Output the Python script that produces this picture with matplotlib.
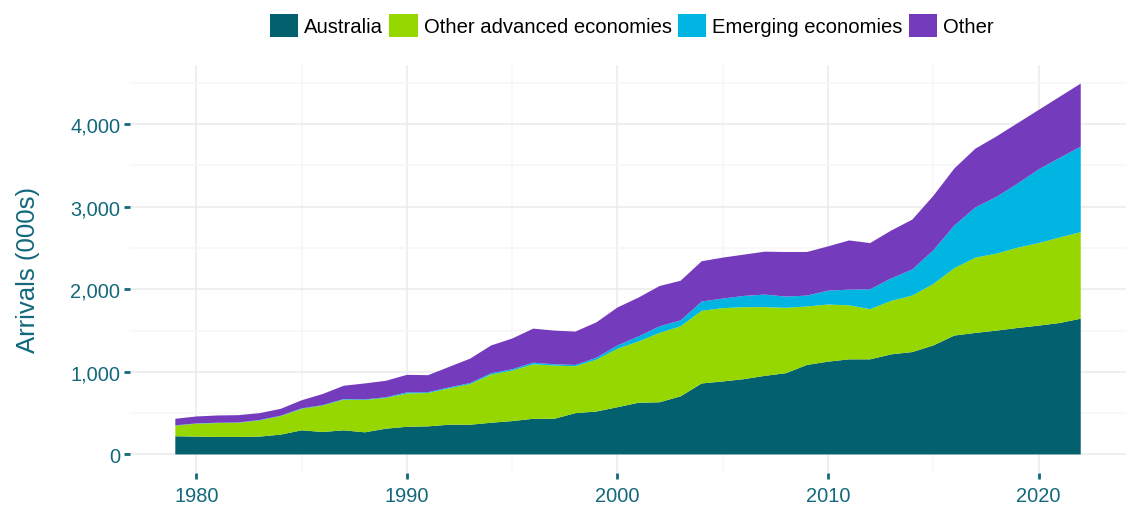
import matplotlib
matplotlib.use("Agg")
import matplotlib.pyplot as plt
from matplotlib.patches import Patch
from matplotlib.ticker import FuncFormatter, MultipleLocator

plt.rcParams["font.family"] = ["Liberation Sans", "DejaVu Sans"]

years = list(range(1979, 2023))

# arrivals (000s) by source
australia = [220, 216, 212, 212, 216, 240, 292, 272, 292, 268,
             312, 335, 340, 360, 360, 384, 404, 432, 432, 500,
             520, 572, 626, 632, 704, 860, 884, 912, 952, 984,
             1084, 1124, 1152, 1152, 1212, 1240, 1320, 1440, 1472, 1500,
             1532, 1560, 1592, 1644]
other_advanced = [128, 156, 168, 172, 196, 224, 260, 320, 372, 392,
                  372, 403, 404, 440, 492, 584, 612, 660, 644, 568,
                  628, 708, 742, 840, 848, 880, 888, 872, 832, 792,
                  708, 692, 654, 608, 648, 684, 744, 816, 912, 932,
                  972, 1000, 1036, 1048]
emerging = [4, 4, 4, 4, 5, 5, 6, 6, 7, 7,
            8, 14, 10, 12, 12, 16, 16, 20, 16, 16,
            24, 40, 62, 80, 72, 112, 116, 136, 152, 136,
            132, 168, 190, 240, 272, 316, 408, 516, 608, 688,
            776, 892, 964, 1036]
other = [80, 84, 88, 88, 83, 83, 98, 134, 161, 193,
         200, 212, 206, 248, 296, 336, 372, 412, 408, 404,
         428, 460, 470, 488, 480, 488, 496, 500, 520, 540,
         528, 536, 596, 560, 580, 604, 660, 692, 712, 732,
         732, 720, 740, 764]

labels = ["Australia", "Other advanced economies", "Emerging economies", "Other"]
colors = ["#03606f", "#97d700", "#00b5e2", "#753bbd"]
text_col = "#13687b"

fig = plt.figure(figsize=(11.26, 5.06), dpi=100)
ax = fig.add_axes([0.1155, 0.0632, 0.8845, 0.8064])

ax.stackplot(years, australia, other_advanced, emerging, other,
             colors=colors, linewidth=0, zorder=3)

ax.set_xlim(1976.85, 2024.15)
ax.set_ylim(-225, 4717)

ax.xaxis.set_major_locator(MultipleLocator(10))
ax.xaxis.set_minor_locator(MultipleLocator(5))
ax.yaxis.set_major_locator(MultipleLocator(1000))
ax.yaxis.set_minor_locator(MultipleLocator(500))
ax.yaxis.set_major_formatter(FuncFormatter(lambda v, p: f"{int(v):,}"))

ax.grid(which="major", color="#ebebeb", linewidth=1.1, zorder=0)
ax.grid(which="minor", color="#f6f6f6", linewidth=1.1, zorder=0)
ax.set_axisbelow(True)
for s in ax.spines.values():
    s.set_visible(False)

ax.tick_params(which="major", colors=text_col, labelsize=14.4, length=4, width=2)
ax.tick_params(which="minor", length=0)
ax.tick_params(axis="y", pad=3)
ax.tick_params(axis="x", pad=5)
ax.set_ylabel("Arrivals (000s)", color=text_col, fontsize=18.5, labelpad=22)

handles = [Patch(facecolor=c, edgecolor="none") for c in colors]
fig.legend(handles, labels, loc="center", bbox_to_anchor=(0.561, 0.948), ncol=4,
           frameon=False, fontsize=14.6, handlelength=1.4, handleheight=1.4,
           handletextpad=0.3, columnspacing=0.3)

fig.savefig("out.png", dpi=100)
